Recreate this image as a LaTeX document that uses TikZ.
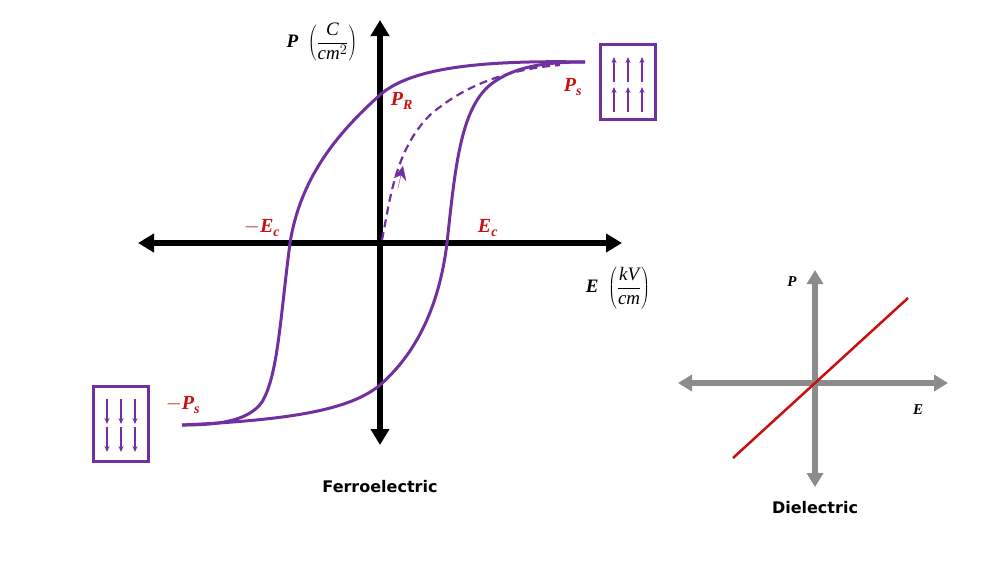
\documentclass[tikz,border=0pt]{standalone}
\usepackage{fontspec}
\setmainfont{Liberation Serif}
\setsansfont{DejaVu Sans}
\usetikzlibrary{arrows.meta}
\definecolor{loopc}{RGB}{112,48,160}
\definecolor{labc}{RGB}{200,16,16}
\tikzset{
  axis/.style={line width=6pt,-{Triangle[length=16pt,width=18pt]}},
  daxis/.style={line width=6pt,gray!90,-{Triangle[length=14pt,width=16pt]}},
  loop/.style={line width=3pt,color=loopc},
  lab/.style={text=labc,font=\fontsize{20}{20}\selectfont\bfseries\itshape},
  ttl/.style={font=\fontsize{16}{18}\selectfont\sffamily\bfseries},
  dom/.style={draw=loopc,line width=3pt,minimum width=55pt,minimum height=75pt},
  spin/.style={loopc,line width=1.4pt,-{Stealth[length=6pt,width=5pt]}},
}
\begin{document}
\begin{tikzpicture}[x=1pt,y=-1pt]
  \useasboundingbox (0,0) rectangle (1000,563);
  % axes principaux
  \coordinate (O) at (380,243);
  \draw[axis] (O) -- (622,243);
  \draw[axis] (O) -- (138,243);
  \draw[axis] (O) -- (380,20);
  \draw[axis] (O) -- (380,445);
  % cycle d'hysteresis
  \draw[loop] (585,62) .. controls (480,60) and (410,68) .. (380,95)
    .. controls (335,135) and (300,180) .. (290,243)
    .. controls (280,320) and (278,375) .. (262,402)
    .. controls (248,422) and (215,425) .. (182,425);
  \draw[loop] (182,425) .. controls (290,420) and (350,410) .. (380,385)
    .. controls (420,350) and (440,300) .. (447,243)
    .. controls (455,170) and (460,110) .. (490,85)
    .. controls (515,65) and (550,62) .. (585,62);
  \draw[loop,line width=2.2pt,dash pattern=on 8pt off 5pt] (382,240) .. controls (390,200) and (395,150) .. (430,115)
    .. controls (470,80) and (520,68) .. (560,65);
  \draw[loopc,-{Stealth[length=14pt,width=13pt]}] (398,188) -- (403,166);
  % etiquettes
  \node[lab] (PR) at (402,101) {P\textsubscript{R}};
  \node[lab] (Ps) at (573,87) {P\textsubscript{s}};
  \node[lab] (mEc) at (262,228) {$-$E\textsubscript{c}};
  \node[lab] (Ec) at (488,228) {E\textsubscript{c}};
  \node[lab] (mPs) at (183,405) {$-$P\textsubscript{s}};
  \node (Pl) at (322,42) {\fontsize{19}{20}\selectfont\bfseries\itshape P\ \ $\left(\displaystyle\frac{\mathit{C}}{\mathit{cm}^{2}}\right)$};
  \node (El) at (618,288) {\fontsize{19}{20}\selectfont\bfseries\itshape E\ \ $\left(\displaystyle\frac{\mathit{kV}}{\mathit{cm}}\right)$};
  \node[ttl] (fe) at (380,487) {Ferroelectric};
  % domaines
  \node[dom] (up) at (628,82) {};
  \node[dom] (dn) at (121,424) {};
  \foreach \x in {-14,0,14} {
    \draw[spin] ([xshift=\x pt,yshift=-30pt]up.center) -- ([xshift=\x pt,yshift=-5pt]up.center);
    \draw[spin] ([xshift=\x pt,yshift=0pt]up.center) -- ([xshift=\x pt,yshift=25pt]up.center);
    \draw[spin] ([xshift=\x pt,yshift=25pt]dn.center) -- ([xshift=\x pt,yshift=0pt]dn.center);
    \draw[spin] ([xshift=\x pt,yshift=-3pt]dn.center) -- ([xshift=\x pt,yshift=-28pt]dn.center);
  }
  % dielectrique
  \coordinate (D) at (815,383);
  \draw[daxis] (D) -- (948,383);
  \draw[daxis] (D) -- (678,383);
  \draw[daxis] (D) -- (815,270);
  \draw[daxis] (D) -- (815,487);
  \draw[labc,line width=2.5pt] (733,458) -- (908,298);
  \node[font=\fontsize{15}{16}\selectfont\bfseries\itshape] (Pd) at (792,282) {P};
  \node[font=\fontsize{15}{16}\selectfont\bfseries\itshape] (Ed) at (918,410) {E};
  \node[ttl] (de) at (815,508) {Dielectric};
\end{tikzpicture}
\end{document}
